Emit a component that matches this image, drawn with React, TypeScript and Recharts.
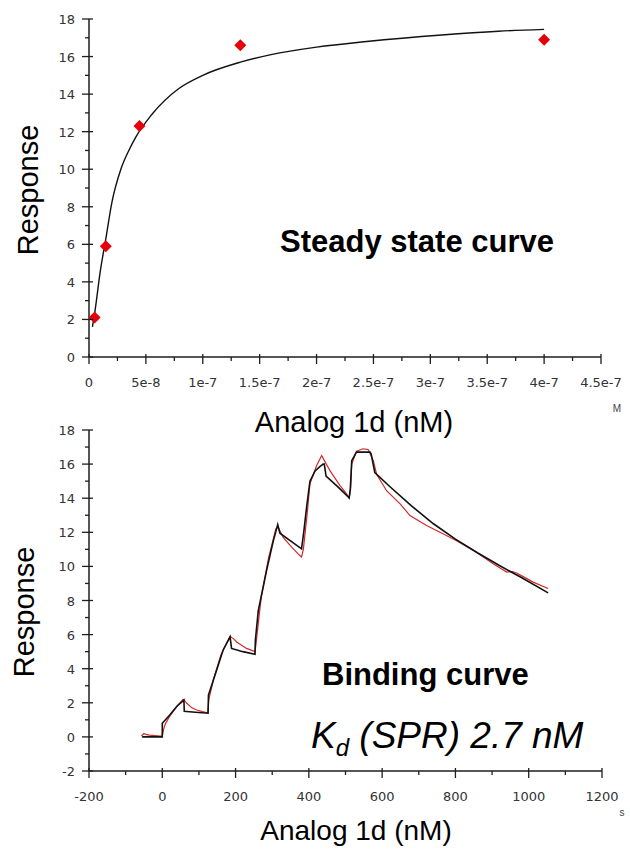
import React from 'react';
import { ComposedChart, Line, Scatter, XAxis, YAxis } from 'recharts';

// steady state points (concentration in M, response)
const steadyConc = [4.94e-9, 1.48e-8, 4.44e-8, 1.33e-7, 4.0e-7];
const steadyResp = [2.1, 5.9, 12.3, 16.6, 16.9];

// steady state fit curve
const fitConc = [3.0e-9, 4.9e-9, 1.0e-8, 1.48e-8, 2.0e-8, 2.8e-8, 3.5e-8, 4.1e-8, 5.5e-8, 7.9e-8, 1.0e-7, 1.33e-7, 1.6e-7, 2.0e-7, 2.44e-7, 3.1e-7, 3.6e-7, 4.0e-7];
const fitConcResp = [1.6, 2.3, 4.6, 6.3, 8.2, 10.0, 11.0, 11.7, 12.9, 14.3, 15.0, 15.7, 16.1, 16.5, 16.8, 17.15, 17.35, 17.45];

// binding curve: fitted (black)
const fitTime = [-55, 0, 0, 21, 40, 59, 60, 90, 125, 126, 148, 166, 185, 189, 220, 253, 254, 262, 285, 303, 315, 321, 350, 380, 386, 394, 403, 417, 430, 439, 442, 447, 480, 510, 513, 517, 530, 567, 570, 580, 620, 680, 740, 800, 860, 920, 980, 1053];
const fitResp = [0, 0, 0.8, 1.3, 1.8, 2.16, 1.5, 1.45, 1.39, 2.45, 3.9, 5.1, 5.87, 5.19, 5.0, 4.84, 5.67, 7.4, 9.8, 11.5, 12.45, 11.95, 11.5, 11.03, 12.0, 13.5, 15.0, 15.6, 15.85, 16.0, 16.0, 15.3, 14.65, 14.02, 14.5, 16.2, 16.7, 16.7, 16.6, 15.5, 14.7, 13.55, 12.5, 11.6, 10.8, 10.05, 9.35, 8.45];

// binding curve: measured (red)
const measTime = [-57, -50, -45, -35, -20, -5, 0, 3, 8, 20, 40, 57, 62, 67, 80, 94, 110, 121, 124, 127, 140, 160, 185, 195, 203, 230, 253, 256, 270, 290, 310, 316, 330, 350, 370, 380, 385, 395, 403, 421, 435, 445, 458, 485, 503, 510, 514, 517, 530, 548, 562, 576, 585, 612, 649, 676, 721, 758, 803, 849, 903, 940, 955, 967, 985, 1012, 1053];
const measResp = [0.05, 0.2, 0.15, 0.1, 0.08, 0.05, 0.05, 0.4, 0.75, 1.2, 1.8, 2.2, 2.1, 1.97, 1.72, 1.58, 1.48, 1.42, 1.42, 2.2, 3.4, 4.8, 5.9, 5.75, 5.57, 5.19, 5.0, 5.5, 8.2, 10.5, 12.2, 12.3, 11.7, 11.2, 10.75, 10.55, 11.0, 13.0, 14.85, 15.9, 16.5, 16.1, 15.6, 14.74, 14.25, 14.0, 14.6, 16.0, 16.75, 16.9, 16.85, 16.2, 15.4, 14.44, 13.67, 12.98, 12.4, 12.0, 11.5, 10.94, 10.16, 9.67, 9.7, 9.61, 9.4, 9.08, 8.7];

// tick labels
const topXLabels = ['0', '5e-8', '1e-7', '1.5e-7', '2e-7', '2.5e-7', '3e-7', '3.5e-7', '4e-7', '4.5e-7'];
const bottomXLabels = ['-200', '0', '200', '400', '600', '800', '1000', '1200'];
const topYLabels = ['0', '2', '4', '6', '8', '10', '12', '14', '16', '18'];
const bottomYLabels = ['-2', '0', '2', '4', '6', '8', '10', '12', '14', '16', '18'];

// majors plus one minor tick between each pair
const withMinors = (labels: string[]) => {
    const v = labels.map(Number);
    const out: number[] = [];
    v.forEach((n, i) => {
        out.push(n);
        if (i < v.length - 1) out.push((n + v[i + 1]) / 2);
    });
    return out;
};

const steadyData = steadyConc.map((c, i) => ({ c, r: steadyResp[i] }));
const steadyFit = fitConc.map((c, i) => ({ c, r: fitConcResp[i] }));
const bindFit = fitTime.map((t, i) => ({ t, r: fitResp[i] }));
const bindMeas = measTime.map((t, i) => ({ t, r: measResp[i] }));

const AXIS = '#1e1e1e';
const tickFont = { fontFamily: '"DejaVu Sans", sans-serif', fontSize: 13, fill: '#333' };
const labelFont = 'Liberation Sans, Arial, sans-serif';

const XTick = (props: any, labels: string[]) => {
    const { x, y, index } = props;
    const major = index % 2 === 0;
    return (
        <g>
            <line x1={x} x2={x} y1={major ? y - 3 : y} y2={major ? y + 7 : y + 4} stroke={AXIS} strokeWidth={1.3} />
            {major && (
                <text x={x} y={y + 30} textAnchor="middle" {...tickFont}>{labels[index / 2]}</text>
            )}
        </g>
    );
};

const YTick = (props: any, labels: string[]) => {
    const { x, y, index } = props;
    const major = index % 2 === 0;
    return (
        <g>
            <line x1={major ? x - 7 : x - 4} x2={major ? x + 4 : x} y1={y} y2={y} stroke={AXIS} strokeWidth={1.3} />
            {major && (
                <text x={x - 14} y={y + 5} textAnchor="end" {...tickFont}>{labels[index / 2]}</text>
            )}
        </g>
    );
};

const Diamond = (p: any) => (
    <polygon
        points={`${p.cx},${p.cy - 6} ${p.cx + 6},${p.cy} ${p.cx},${p.cy + 6} ${p.cx - 6},${p.cy}`}
        fill="#e6000a"
    />
);

export default function App() {
    return (
        <div style={{ position: 'relative', width: 630, height: 850, background: '#fff' }}>
            <style>{'body{margin:0;background:#fff}'}</style>

            {/* Steady state curve */}
            <div style={{ position: 'absolute', left: 0, top: 0 }}>
                <ComposedChart width={630} height={420} margin={{ top: 19, right: 29, left: 0, bottom: 0 }}>
                    <XAxis
                        dataKey="c"
                        type="number"
                        domain={[0, 4.5e-7]}
                        ticks={withMinors(topXLabels)}
                        interval={0}
                        height={63}
                        tickSize={0}
                        tickMargin={0}
                        tickLine={false}
                        axisLine={{ stroke: AXIS, strokeWidth: 1.5 }}
                        tick={(p: any) => XTick(p, topXLabels)}
                    />
                    <YAxis
                        dataKey="r"
                        type="number"
                        domain={[0, 18]}
                        ticks={withMinors(topYLabels)}
                        interval={0}
                        width={89}
                        tickSize={0}
                        tickMargin={0}
                        tickLine={false}
                        axisLine={{ stroke: AXIS, strokeWidth: 1.5 }}
                        tick={(p: any) => YTick(p, topYLabels)}
                    />
                    <Line data={steadyFit} dataKey="r" type="monotone" stroke="#111" strokeWidth={1.4} dot={false} isAnimationActive={false} />
                    <Scatter data={steadyData} dataKey="r" shape={Diamond} isAnimationActive={false} />
                </ComposedChart>
            </div>

            {/* Binding curve */}
            <div style={{ position: 'absolute', left: 0, top: 420 }}>
                <ComposedChart width={630} height={430} margin={{ top: 10, right: 28, left: 0, bottom: 0 }}>
                    <XAxis
                        dataKey="t"
                        type="number"
                        domain={[-200, 1200]}
                        ticks={withMinors(bottomXLabels)}
                        interval={0}
                        height={79}
                        tickSize={0}
                        tickMargin={0}
                        tickLine={false}
                        axisLine={{ stroke: AXIS, strokeWidth: 1.5 }}
                        tick={(p: any) => XTick(p, bottomXLabels)}
                    />
                    <YAxis
                        dataKey="r"
                        type="number"
                        domain={[-2, 18]}
                        ticks={withMinors(bottomYLabels)}
                        interval={0}
                        width={89}
                        tickSize={0}
                        tickMargin={0}
                        tickLine={false}
                        axisLine={{ stroke: AXIS, strokeWidth: 1.5 }}
                        tick={(p: any) => YTick(p, bottomYLabels)}
                    />
                    <Line data={bindMeas} dataKey="r" type="linear" stroke="#d02a2a" strokeWidth={1.2} dot={false} isAnimationActive={false} />
                    <Line data={bindFit} dataKey="r" type="linear" stroke="#111" strokeWidth={1.6} dot={false} isAnimationActive={false} />
                </ComposedChart>
            </div>

            {/* titles and annotations */}
            <svg width={630} height={850} style={{ position: 'absolute', left: 0, top: 0, pointerEvents: 'none' }}>
                <g fontFamily={labelFont} fill="#000">
                    <text transform="translate(38,190) rotate(-90)" textAnchor="middle" fontSize={29}>Response</text>
                    <text x={354} y={432} textAnchor="middle" fontSize={29}>Analog 1d (nM)</text>
                    <text x={617} y={412} textAnchor="middle" fontSize={10} fill="#444">M</text>
                    <text x={417} y={252} textAnchor="middle" fontSize={31} fontWeight="bold">Steady state curve</text>

                    <text transform="translate(34,612) rotate(-90)" textAnchor="middle" fontSize={29}>Response</text>
                    <text x={356} y={840} textAnchor="middle" fontSize={28}>Analog 1d (nM)</text>
                    <text x={622} y={816} textAnchor="middle" fontSize={10} fill="#444">s</text>
                    <text x={322} y={685} fontSize={31} fontWeight="bold">Binding curve</text>
                    <text x={311} y={748} fontSize={37} fontStyle="italic">
                        K<tspan fontSize={24} dy={8}>d</tspan><tspan dy={-8}> (SPR) 2.7 nM</tspan>
                    </text>
                </g>
            </svg>
        </div>
    );
}
